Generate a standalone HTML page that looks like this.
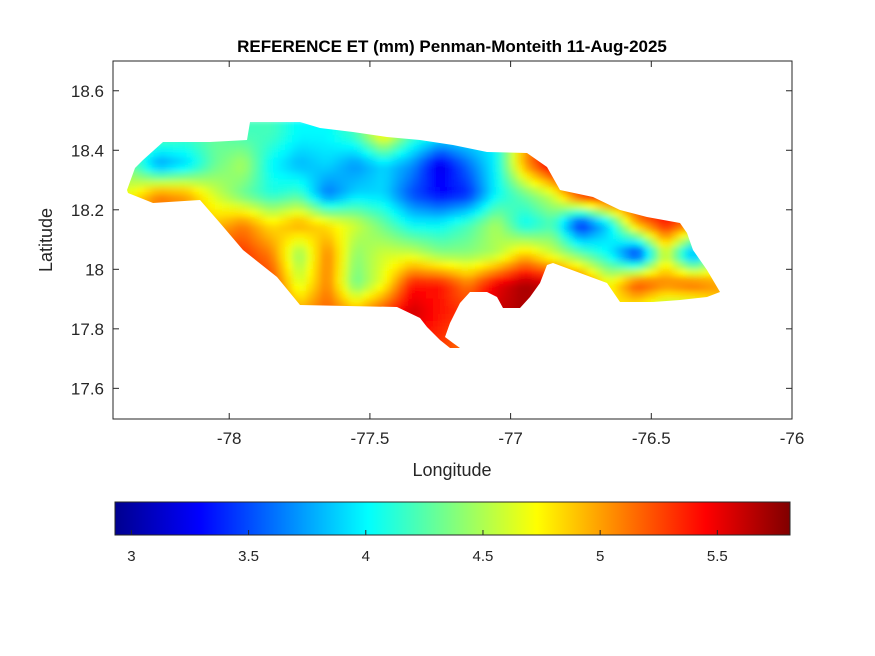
<!DOCTYPE html>
<html><head><meta charset="utf-8"><style>
body{margin:0;background:#fff;}
svg{display:block;font-family:"Liberation Sans",Arial,sans-serif;}
</style></head><body>
<svg width="875" height="656" viewBox="0 0 875 656">
<defs>
<clipPath id="land"><polygon points="127,190 135,168 143,160 163,142 210,142 247,140 250,122 300,122 320,128 353,132 387,137 420,140 453,145 487,152 527,153 547,167 560,190 593,197 620,210 647,217 680,223 687,233 693,250 707,270 720,292 707,297 680,300 653,302 620,302 607,283 580,273 553,263 547,265 540,283 530,297 520,308 503,308 497,297 487,292 470,292 460,303 450,323 445,337 453,343 460,348 450,348 440,340 427,327 420,318 397,307 300,305 277,277 243,250 220,223 200,200 153,203 128,193"/></clipPath>
<filter id="blur" x="-5%" y="-5%" width="110%" height="110%"><feGaussianBlur stdDeviation="3"/></filter>
<linearGradient id="jet" x1="0" x2="1" y1="0" y2="0">
<stop offset="0" stop-color="#00008f"/><stop offset="0.125" stop-color="#0000ff"/><stop offset="0.375" stop-color="#00ffff"/><stop offset="0.625" stop-color="#ffff00"/><stop offset="0.875" stop-color="#ff0000"/><stop offset="1" stop-color="#800000"/>
</linearGradient>
</defs>
<rect x="113" y="61" width="679" height="358" fill="#fff" stroke="#262626" stroke-width="1"/>
<g clip-path="url(#land)"><g id="cells" filter="url(#blur)"></g></g>
<g id="axes"></g>
<text x="452" y="52" text-anchor="middle" font-size="17" font-weight="bold" fill="#000">REFERENCE ET (mm) Penman-Monteith 11-Aug-2025</text>
<text x="452" y="476" text-anchor="middle" font-size="18" fill="#262626">Longitude</text>
<text transform="translate(52,240) rotate(-90)" text-anchor="middle" font-size="18" fill="#262626">Latitude</text>
<rect x="115" y="502" width="675" height="33" fill="url(#jet)" stroke="#262626" stroke-width="1"/>
<g id="cbticks"></g>
</svg>
<script>
const lonCenters=[-78.35,-78.25,-78.15,-78.05,-77.95,-77.85,-77.75,-77.65,-77.55,-77.45,-77.35,-77.25,-77.15,-77.05,-76.95,-76.85,-76.75,-76.65,-76.55,-76.45,-76.35,-76.25];
const latCenters=[18.45,18.35,18.25,18.15,18.05,17.95,17.85,17.75];
const etValues=[
[4.3,4.3,4.2,4.3,4.2,4.2,4.0,4.0,4.2,4.8,4.2,4.0,4.0,4.0,5.0,5.3,5.3,5.3,5.3,5.3,5.3,5.3],
[4.3,3.7,3.9,4.3,4.5,4.0,3.8,3.9,3.7,3.9,3.7,3.2,3.6,4.0,5.0,5.6,5.6,5.6,5.5,5.5,5.5,5.5],
[4.7,5.1,5.0,4.6,4.3,4.1,4.2,3.6,3.9,3.9,3.5,3.3,3.4,4.0,4.3,4.6,5.4,5.6,5.5,5.4,5.4,5.4],
[5.1,5.1,5.0,4.9,5.1,4.8,5.0,4.8,4.6,4.3,4.0,4.0,4.2,4.5,4.0,4.2,3.3,3.9,5.0,5.4,5.1,5.0],
[5.3,5.3,5.3,5.3,5.3,5.1,4.4,5.1,4.4,4.6,4.6,4.4,4.4,4.5,4.9,4.6,4.3,4.0,3.3,4.6,3.6,4.5],
[5.3,5.3,5.3,5.3,5.3,5.3,4.6,5.1,4.3,4.7,5.4,5.4,5.1,5.5,5.7,5.6,5.3,4.7,5.3,5.1,5.2,5.0],
[5.3,5.3,5.3,5.3,5.3,5.2,5.0,5.2,5.0,5.3,5.6,5.4,5.3,5.6,5.7,5.5,5.0,4.8,4.6,4.3,4.3,4.8],
[5.2,5.2,5.2,5.2,5.2,5.2,5.2,5.2,5.2,5.3,5.4,5.3,5.1,5.2,5.2,5.2,5.2,5.2,5.2,5.2,5.2,5.2]];
const xTicks=[-78,-77.5,-77,-76.5,-76];
const xTickLabels=["-78","-77.5","-77","-76.5","-76"];
const yTicks=[18.6,18.4,18.2,18,17.8,17.6];
const yTickLabels=["18.6","18.4","18.2","18","17.8","17.6"];
const cTicks=[3,3.5,4,4.5,5,5.5];
const cTickLabels=["3","3.5","4","4.5","5","5.5"];
const cMin=2.93,cMax=5.81;
const NS="http://www.w3.org/2000/svg";
const X0=113,X1=792,LON0=-78.413,LON1=-76.0;
const Y0=61,Y1=419,LAT0=18.70,LAT1=17.497;
function xScale(l){return X0+(l-LON0)/(LON1-LON0)*(X1-X0);}
function yScale(l){return Y0+(LAT0-l)/(LAT0-LAT1)*(Y1-Y0);}
function cScale(v){return 115+(v-cMin)/(cMax-cMin)*675;}
function jet(v){let t=(v-cMin)/(cMax-cMin);t=Math.max(0,Math.min(1,t));
 const f=x=>Math.max(0,Math.min(1,x));
 const r=f(1.5-Math.abs(4*t-3)),g=f(1.5-Math.abs(4*t-2)),b=f(1.5-Math.abs(4*t-1));
 return `rgb(${Math.round(r*255)},${Math.round(g*255)},${Math.round(b*255)})`;}
function mk(tag,attrs,parent){const e=document.createElementNS(NS,tag);for(const k in attrs)e.setAttribute(k,attrs[k]);parent.appendChild(e);return e;}
function sample(lon,lat){
 const nj=lonCenters.length,ni=latCenters.length;
 let fj=(lon-lonCenters[0])/(lonCenters[1]-lonCenters[0]);
 let fi=(lat-latCenters[0])/(latCenters[1]-latCenters[0]);
 fj=Math.max(0,Math.min(nj-1,fj));fi=Math.max(0,Math.min(ni-1,fi));
 const j0=Math.min(nj-2,Math.floor(fj)),i0=Math.min(ni-2,Math.floor(fi));
 const tj=fj-j0,ti=fi-i0;
 const a=etValues[i0][j0],b=etValues[i0][j0+1],c=etValues[i0+1][j0],d=etValues[i0+1][j0+1];
 return (a*(1-tj)+b*tj)*(1-ti)+(c*(1-tj)+d*tj)*ti;
}
const cells=document.getElementById('cells');
const dLon=lonCenters[1]-lonCenters[0],dLat=latCenters[0]-latCenters[1];
const SUB=4;
latCenters.forEach((lat,i)=>{lonCenters.forEach((lon,j)=>{
 for(let a=0;a<SUB;a++){for(let b=0;b<SUB;b++){
  const l0=lon-dLon/2+b*dLon/SUB,t0=lat+dLat/2-a*dLat/SUB;
  const x=xScale(l0),y=yScale(t0);
  const w=xScale(l0+dLon/SUB)-x,h=yScale(t0-dLat/SUB)-y;
  const v=sample(l0+dLon/SUB/2,t0-dLat/SUB/2);
  const r=mk('rect',{x:x-0.3,y:y-0.3,width:w+0.6,height:h+0.6,fill:jet(v)},cells);
  
  
 }}
});});
const ax=document.getElementById('axes');
xTicks.forEach((t,i)=>{const x=xScale(t);
 mk('line',{x1:x,x2:x,y1:Y1,y2:Y1-6,stroke:'#262626'},ax);
 mk('line',{x1:x,x2:x,y1:Y0,y2:Y0+6,stroke:'#262626'},ax);
 const tx=mk('text',{x:x,y:Y1+25,'text-anchor':'middle','font-size':'17',fill:'#262626'},ax);tx.textContent=xTickLabels[i];
 
 
});
yTicks.forEach((t,i)=>{const y=yScale(t);
 mk('line',{x1:X0,x2:X0+6,y1:y,y2:y,stroke:'#262626'},ax);
 mk('line',{x1:X1,x2:X1-6,y1:y,y2:y,stroke:'#262626'},ax);
 const tx=mk('text',{x:X0-9,y:y+6,'text-anchor':'end','font-size':'17',fill:'#262626'},ax);tx.textContent=yTickLabels[i];
 
 
});
const cb=document.getElementById('cbticks');
cTicks.forEach((t,i)=>{const x=cScale(t);
 mk('line',{x1:x,x2:x,y1:535,y2:530,stroke:'#262626'},cb);
 const tx=mk('text',{x:x,y:561,'text-anchor':'middle','font-size':'15',fill:'#262626'},cb);tx.textContent=cTickLabels[i];
 
 
});
</script>
</body></html>
